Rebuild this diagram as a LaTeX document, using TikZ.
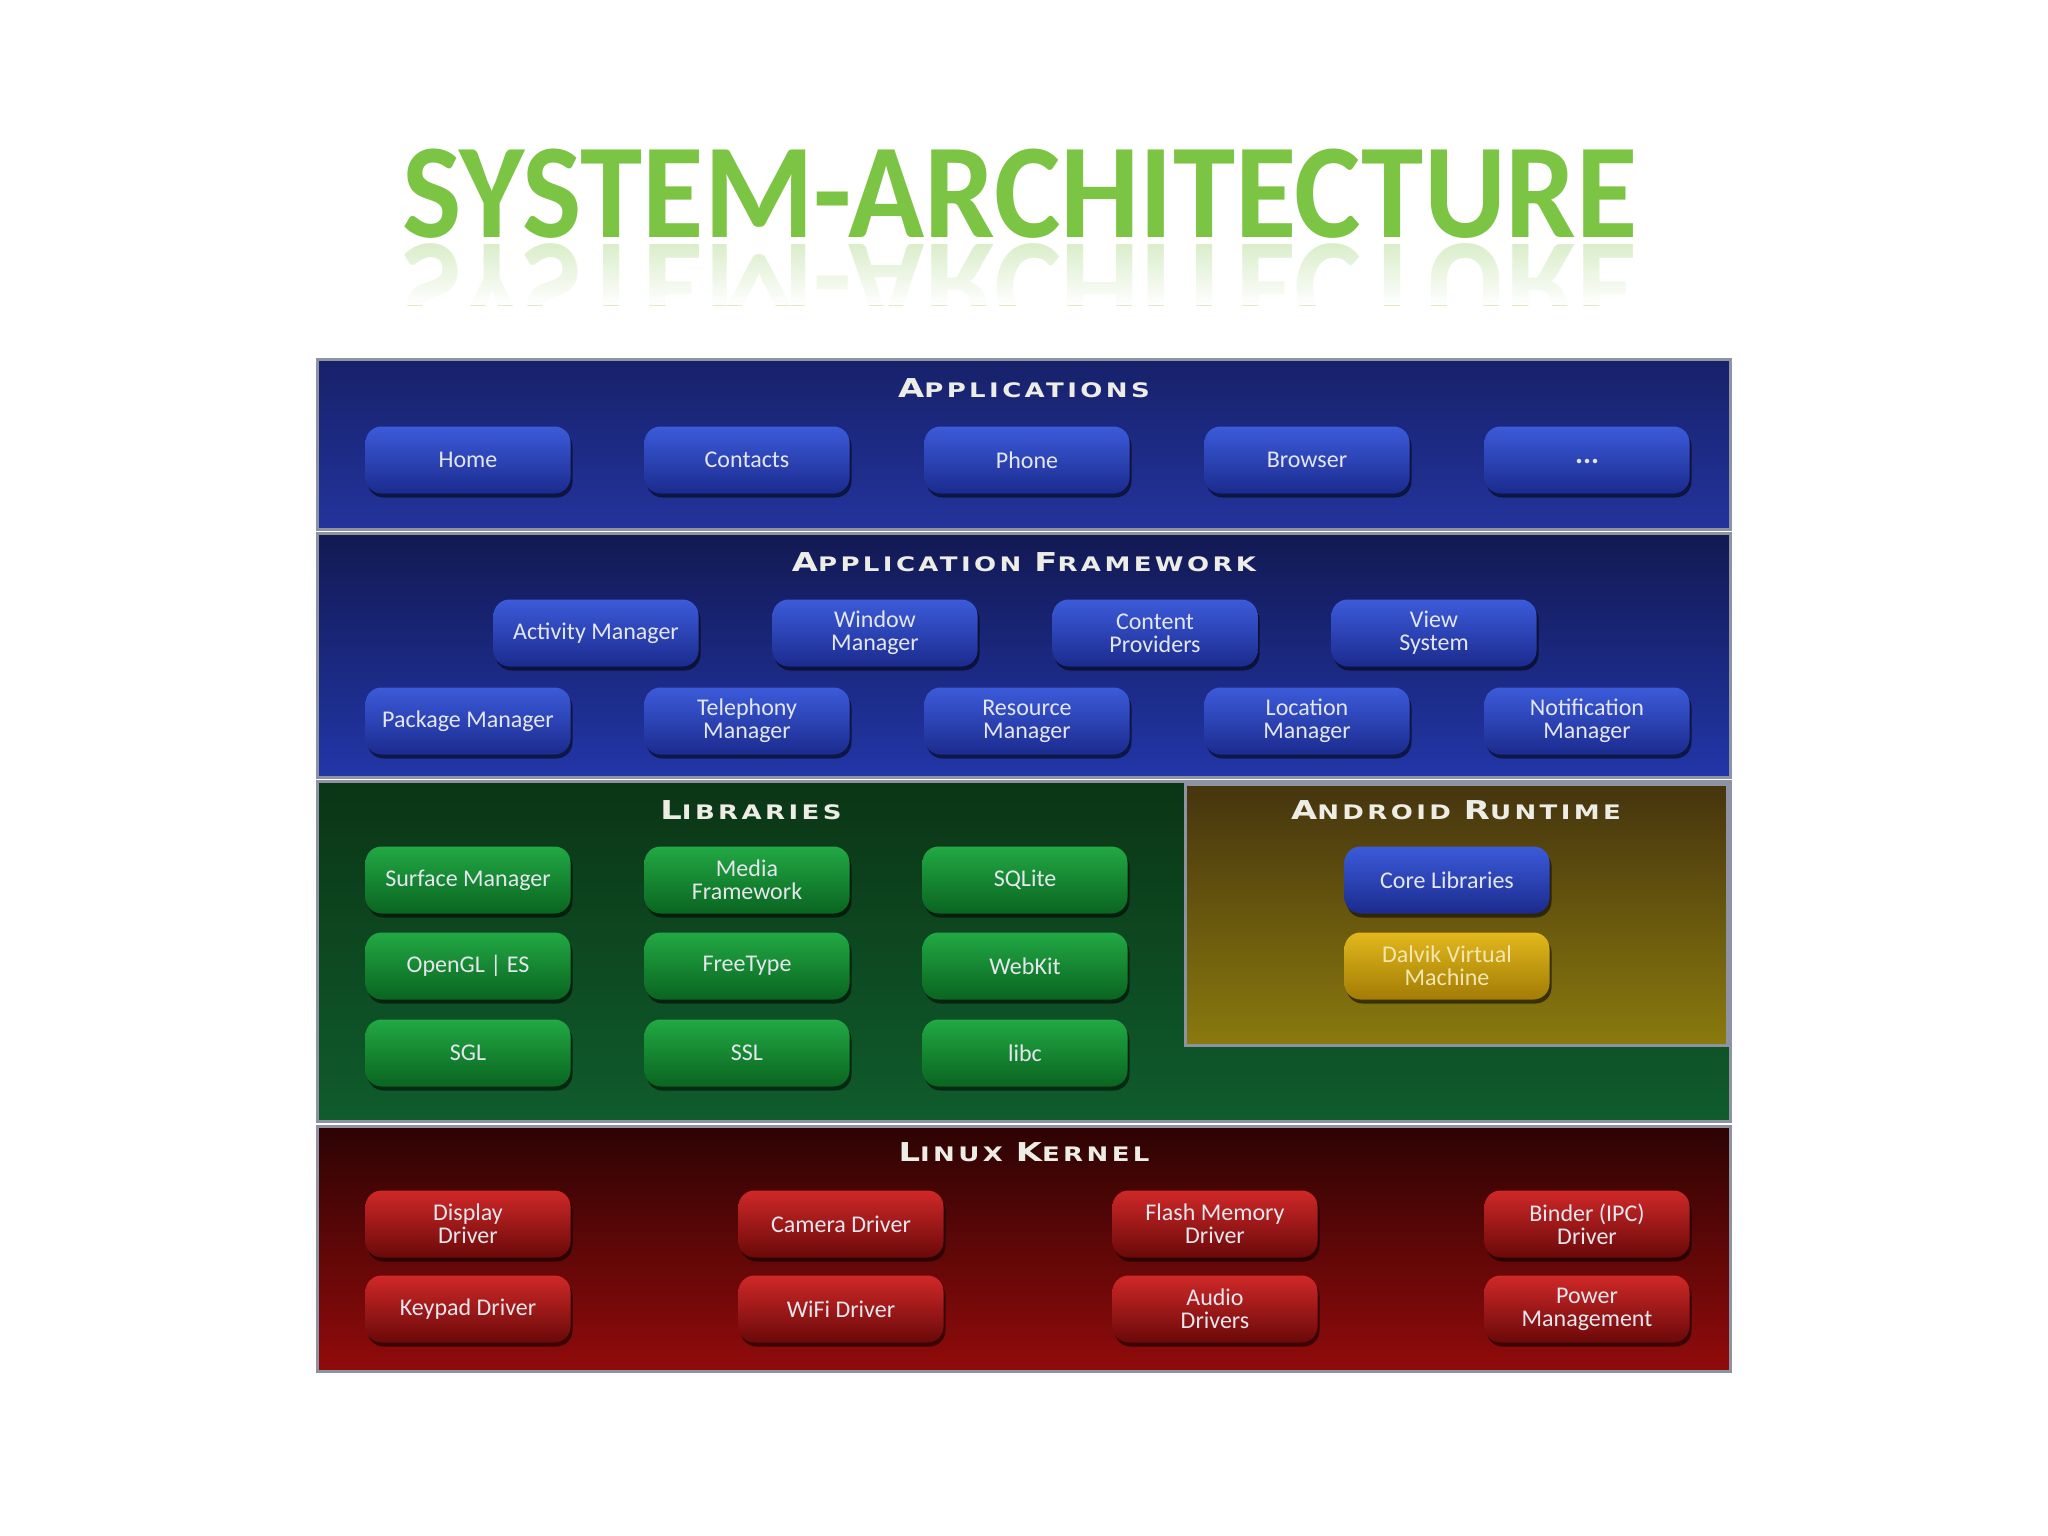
\documentclass[tikz,border=0pt]{standalone}
\usepackage{fontspec}
\setmainfont{Carlito}
\newfontfamily\headfont[FakeStretch=1.3,LetterSpace=17]{DejaVu Sans Bold}
\newfontfamily\titlefont{Carlito}
\usetikzlibrary{shadows,fadings}
\tikzfading[name=wfade, top color=transparent!100, bottom color=transparent!0]
\definecolor{titleGreen}{HTML}{7CC443}
\definecolor{headText}{HTML}{EDEDE6}
\definecolor{btnText}{HTML}{E4E6EE}
\definecolor{panelEdge}{HTML}{8E93A3}
\definecolor{appTop}{HTML}{17216A}
\definecolor{appBot}{HTML}{23339C}
\definecolor{fwTop}{HTML}{121952}
\definecolor{fwBot}{HTML}{2236A8}
\definecolor{libTop}{HTML}{0B3516}
\definecolor{libBot}{HTML}{0F5C2C}
\definecolor{rtTop}{HTML}{45340E}
\definecolor{rtBot}{HTML}{8A7A0E}
\definecolor{kTop}{HTML}{2C0303}
\definecolor{kBot}{HTML}{920B0B}
\definecolor{bBlueTop}{HTML}{3C5BDA}
\definecolor{bBlueBot}{HTML}{1B2B8E}
\definecolor{bGreenTop}{HTML}{22A944}
\definecolor{bGreenBot}{HTML}{0A6420}
\definecolor{bRedTop}{HTML}{D02828}
\definecolor{bRedBot}{HTML}{6A0909}
\definecolor{bGoldTop}{HTML}{E2B81C}
\definecolor{bGoldBot}{HTML}{A27C06}
\definecolor{goldText}{HTML}{F3E6AE}
\newcommand\hdw[2]{{\fontsize{26}{26}\selectfont #1}{\fontsize{20}{20}\selectfont #2}}
\newcommand\hgap{\hspace{13pt}}
\tikzset{
  x=1pt, y=-1pt,
  btn/.style={rounded corners=16pt, minimum width=205pt, minimum height=67pt,
    align=center, text=btnText, inner sep=0pt,
    font=\fontsize{24}{23}\selectfont,
    drop shadow={shadow xshift=2pt, shadow yshift=-4pt, opacity=0.55, fill=black}},
  bluebtn/.style={btn, top color=bBlueTop, bottom color=bBlueBot},
  greenbtn/.style={btn, top color=bGreenTop, bottom color=bGreenBot},
  redbtn/.style={btn, top color=bRedTop, bottom color=bRedBot},
  goldbtn/.style={btn, top color=bGoldTop, bottom color=bGoldBot, text=goldText},
  panel/.style={draw=panelEdge, line width=3pt},
  heading/.style={text=headText, font=\headfont, inner sep=0pt}
}
\begin{document}
\begin{tikzpicture}
\useasboundingbox (0,0) rectangle (2048,1536);
\fill[white] (0,0) rectangle (2048,1536);

% title
\node[text=titleGreen, inner sep=0pt] (title) at (1020,194)
  {\scalebox{0.93}[1]{\titlefont\bfseries\fontsize{135}{135}\selectfont SYSTEM-ARCHITECTURE}};
\begin{scope}
  \clip (300,243) rectangle (1750,305);
  \begin{scope}[shift={(1020,288)}, yscale=-1]
    \node[transform shape, text=titleGreen!28, inner sep=0pt] (titlerefl) at (0,0)
      {\scalebox{0.93}[1]{\titlefont\bfseries\fontsize{135}{135}\selectfont SYSTEM-ARCHITECTURE}};
  \end{scope}
  \fill[white, path fading=wfade] (300,243) rectangle (1750,305);
\end{scope}

% panels
\path[panel, top color=appTop, bottom color=appBot] (317,359) rectangle (1730,529);
\path[panel, top color=fwTop, bottom color=fwBot] (317,533) rectangle (1730,777);
\path[panel, top color=libTop, bottom color=libBot] (317,781) rectangle (1730,1121);
\path[panel, top color=rtTop, bottom color=rtBot] (1185,784) rectangle (1727,1045);
\path[panel, top color=kTop, bottom color=kBot] (317,1126) rectangle (1730,1371);

% headings
\node[heading] (happ) at (1024,388) {\hdw{A}{PPLICATIONS}};
\node[heading] (hfw) at (1024,562) {\hdw{A}{PPLICATION}\hgap\hdw{F}{RAMEWORK}};
\node[heading] (hlib) at (751,810) {\hdw{L}{IBRARIES}};
\node[heading] (hrt) at (1456,810) {\hdw{A}{NDROID}\hgap\hdw{R}{UNTIME}};
\node[heading] (hk) at (1024,1152) {\hdw{L}{INUX}\hgap\hdw{K}{ERNEL}};

% applications
\node[bluebtn] (home) at (468,460) {Home};
\node[bluebtn] (contacts) at (747,460) {Contacts};
\node[bluebtn] (phone) at (1027,460) {Phone};
\node[bluebtn] (browser) at (1307,460) {Browser};
\node[bluebtn] (more) at (1587,460) {\raisebox{-7pt}{\bfseries\fontsize{30}{30}\selectfont ...}};

% framework
\node[bluebtn] (actm) at (596,633) {Activity Manager};
\node[bluebtn] (winm) at (875,633) {Window\\Manager};
\node[bluebtn] (cprov) at (1155,633) {Content\\Providers};
\node[bluebtn] (views) at (1434,633) {View\\System};
\node[bluebtn] (pkgm) at (468,721) {Package Manager};
\node[bluebtn] (telm) at (747,721) {Telephony\\Manager};
\node[bluebtn] (resm) at (1027,721) {Resource\\Manager};
\node[bluebtn] (locm) at (1307,721) {Location\\Manager};
\node[bluebtn] (notm) at (1587,721) {Notification\\Manager};

% libraries
\node[greenbtn] (surf) at (468,880) {Surface Manager};
\node[greenbtn] (media) at (747,880) {Media\\Framework};
\node[greenbtn] (sqlite) at (1025,880) {SQLite};
\node[greenbtn] (opengl) at (468,966) {OpenGL | ES};
\node[greenbtn] (freetype) at (747,966) {FreeType};
\node[greenbtn] (webkit) at (1025,966) {WebKit};
\node[greenbtn] (sgl) at (468,1053) {SGL};
\node[greenbtn] (ssl) at (747,1053) {SSL};
\node[greenbtn] (libc) at (1025,1053) {libc};

% runtime
\node[bluebtn] (corelib) at (1447,880) {Core Libraries};
\node[goldbtn] (dalvik) at (1447,966) {Dalvik Virtual\\Machine};

% kernel
\node[redbtn] (disp) at (468,1224) {Display\\Driver};
\node[redbtn] (cam) at (841,1224) {Camera Driver};
\node[redbtn] (flash) at (1215,1224) {Flash Memory\\Driver};
\node[redbtn] (binder) at (1587,1224) {Binder (IPC)\\Driver};
\node[redbtn] (keypad) at (468,1309) {Keypad Driver};
\node[redbtn] (wifi) at (841,1309) {WiFi Driver};
\node[redbtn] (audio) at (1215,1309) {Audio\\Drivers};
\node[redbtn] (power) at (1587,1309) {Power\\Management};
\end{tikzpicture}
\end{document}
